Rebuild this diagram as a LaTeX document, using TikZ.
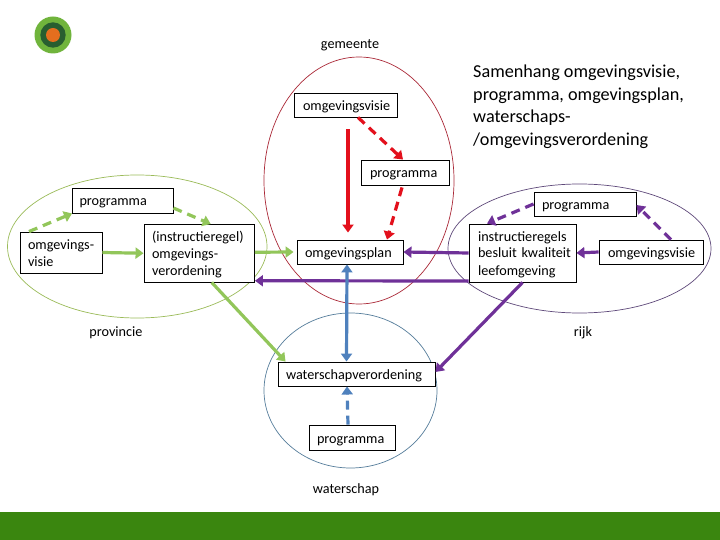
\documentclass[tikz,border=0pt]{standalone}
\usepackage{fontspec}
\setmainfont{Carlito}
\usetikzlibrary{arrows.meta}
\definecolor{cgreen}{HTML}{92C65A}
\definecolor{cpurple}{HTML}{6F3198}
\definecolor{cred}{HTML}{E3101C}
\definecolor{cblue}{HTML}{4F81BD}
\definecolor{cband}{RGB}{58,134,15}
\definecolor{logoa}{RGB}{112,180,60}
\definecolor{logob}{RGB}{40,94,48}
\definecolor{logoc}{RGB}{228,110,30}
\definecolor{rprov}{RGB}{155,187,89}
\definecolor{rgem}{RGB}{170,40,55}
\definecolor{rrijk}{RGB}{95,73,122}
\definecolor{rwat}{RGB}{85,125,155}
\tikzset{
  bx/.style n args={3}{draw=black,line width=.9pt,fill=white,anchor=center,inner ysep=0pt,
    minimum width=#1pt,minimum height=#2pt,inner xsep=#3pt,text width={(#1-2*#3)*1pt},align=left,
    text height=12pt,text depth=1pt,font=\fontsize{14.2}{17}\selectfont},
  twolines/.style={text depth=18pt},
  threelines/.style={text depth=36pt},
  lbl/.style={font=\fontsize{14.2}{17}\selectfont,inner sep=0pt,anchor=base},
  regio/.style={line width=.7pt},
  con/.style={line width=3.2pt,-{Triangle[length=8pt,width=11pt]}},
  dcon/.style={con,dash pattern=on 9pt off 6pt},
}
\begin{document}
\begin{tikzpicture}[x=1pt,y=-1pt]
\useasboundingbox (0,0) rectangle (720,540);
\fill[white] (0,0) rectangle (720,540);
\fill[cband] (0,512) rectangle (720,540);
% logo
\fill[logoa] (53,35) circle (18.5);
\fill[logob] (53,35) circle (12.7);
\fill[logoc] (53,35) circle (7);
% regions
\draw[regio,rprov] (137.25,246.5) ellipse (129.75 and 71.5);
\draw[regio,rgem] (359,180.5) ellipse (95 and 123.5);
\draw[regio,rrijk] (579.5,248.5) ellipse (131.5 and 64.5);
\draw[regio,rwat] (350.5,390.5) ellipse (86.5 and 77.5);
% labels
\node[lbl] (lgem) at (350,48.5) {gemeente};
\node[lbl] (lprov) at (116,336) {provincie};
\node[lbl] (lrijk) at (583,336) {rijk};
\node[lbl] (lwat) at (346,493) {waterschap};
\node[inner sep=0pt,anchor=north west,align=left,font=\fontsize{18.2}{22.4}\selectfont] (titel) at (473,65)
  {Samenhang omgevingsvisie,\\programma, omgevingsplan,\\waterschaps-\\/omgevingsverordening};
% boxes
\node[bx={100.5}{25}{7}] (pprov) at (122.75,200.5) {programma};
\node[bx={82}{41}{8},twolines] (vprov) at (61,252.5) {\mbox{omgevings-}\\visie};
\node[bx={110.5}{57.5}{8},threelines] (oprov) at (199.25,253.25) {(instructieregel)\\\mbox{omgevings-}\\verordening};
\node[bx={103}{24}{9}] (vgem) at (345.5,105) {omgevingsvisie};
\node[bx={88}{25}{9}] (pgem) at (405,172.5) {programma};
\node[bx={106}{24}{8}] (ogem) at (350,252) {omgevingsplan};
\node[bx={102}{24}{8}] (prijk) at (585,204) {programma};
\node[bx={107}{58}{9},threelines] (irijk) at (522.5,253) {\mbox{instructieregels}\\\mbox{besluit kwaliteit}\\\mbox{leefomgeving}};
\node[bx={104}{24}{9}] (vrijk) at (651,252) {omgevingsvisie};
\node[bx={157}{24}{8}] (wver) at (356.5,374) {waterschapverordening};
\node[bx={86}{25}{8}] (pwat) at (352,437.5) {programma};
% green
\draw[dcon,cgreen] ([xshift=-32pt]vprov.north) -- (pprov.south west);
\draw[dcon,cgreen] ([yshift=-7.5pt]pprov.east) -- ([xshift=11.5pt]oprov.north);
\draw[con,cgreen] (vprov.east) -- (oprov.west);
\draw[con,cgreen] ([yshift=1pt]oprov.east) -- ([xshift=-3pt]ogem.west);
\draw[con,cgreen] ([xshift=12.5pt]oprov.south) -- ([xshift=8pt]wver.north west);
% red
\draw[con,cred] ([xshift=2.5pt,yshift=-12pt]vgem.south) -- ([xshift=-2pt,yshift=7pt]ogem.north);
\draw[dcon,cred] ([xshift=12.5pt]vgem.south) -- ([xshift=-2pt]pgem.north);
\draw[dcon,cred] ([xshift=-3pt,yshift=-2pt]pgem.south) -- ([xshift=37pt]ogem.north);
% purple
\draw[con,cpurple] (irijk.west) -- (ogem.east);
\draw[con,cpurple] ([yshift=-28pt]irijk.west) -- ([yshift=-27.5pt]oprov.east);
\draw[con,cpurple] (irijk.south) -- ([yshift=2pt]wver.east);
\draw[dcon,cpurple] (prijk.west) -- ([xshift=-35.5pt]irijk.north);
\draw[dcon,cpurple] ([xshift=20pt]vrijk.north) -- ([yshift=-1pt]prijk.east);
\draw[con,cpurple] (vrijk.west) -- (irijk.east);
% blue
\draw[con,cblue,{Triangle[length=8pt,width=11pt]}-{Triangle[length=8pt,width=11pt]}] ([xshift=-3pt]ogem.south) -- ([xshift=-10pt]wver.north);
\draw[dcon,cblue] ([xshift=-4pt]pwat.north) -- ([xshift=-9.5pt]wver.south);
\end{tikzpicture}
\end{document}
